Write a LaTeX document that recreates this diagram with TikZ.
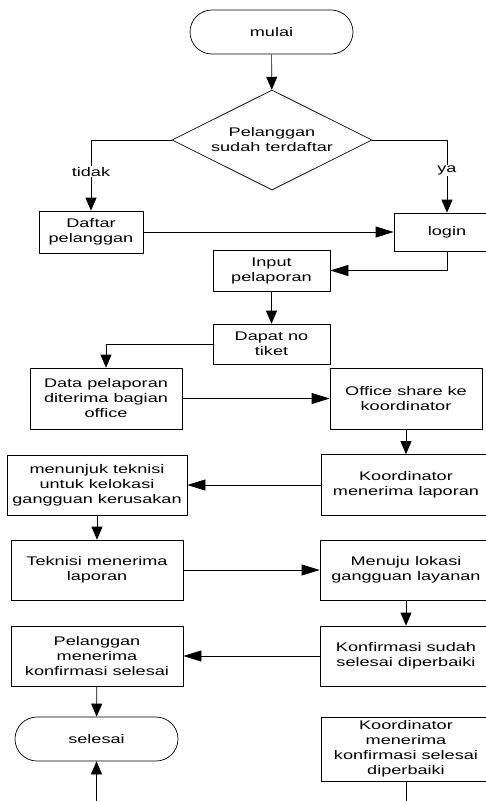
\documentclass[tikz,border=0pt]{standalone}
\usepackage{fontspec}
\setmainfont{Liberation Sans}[FakeStretch=1.45]
\usepackage{tikz}
\usetikzlibrary{shapes.geometric,shapes.misc,arrows.meta}

\tikzset{
  teks/.style={font=\fontsize{12.5}{15}\selectfont, align=center},
  proses/.style={teks, draw, rectangle, inner sep=0pt},
  terminal/.style={teks, draw, rounded rectangle, inner sep=0pt,
    minimum width=163pt, minimum height=44pt},
  keputusan/.style={teks, draw, diamond, aspect=2, inner sep=0pt,
    minimum width=200pt, minimum height=100pt},
  panah/.style={-{Triangle[length=13pt,width=11pt]}},
  panahh/.style={-{Triangle[length=18pt,width=11pt]}},
  ket/.style={teks, fill=white, inner sep=1pt}
}

\begin{document}
\begin{tikzpicture}[x=1pt,y=-1pt,line width=0.7pt]
  \useasboundingbox (0,0) rectangle (486,801);

\node[terminal] (mulai) at (271.5,32) {mulai};
\node[keputusan] (cek) at (272,140) {Pelanggan\\sudah terdaftar};
\node[proses, minimum width=104pt, minimum height=42pt] (daftar) at (91,232) {Daftar\\pelanggan};
\node[proses, minimum width=106pt, minimum height=38pt] (login) at (447,232) {login};
\node[proses, minimum width=117pt, minimum height=41pt] (input) at (271.5,270.5) {Input\\pelaporan};
\node[proses, minimum width=117pt, minimum height=40pt] (tiket) at (271.5,344) {Dapat no\\tiket};
\node[proses, minimum width=152pt, minimum height=61pt] (data) at (106,398.5) {Data pelaporan\\diterima bagian\\office};
\node[proses, minimum width=152pt, minimum height=61pt] (office) at (406,398.5) {Office share ke\\koordinator};
\node[proses, minimum width=170pt, minimum height=61pt] (koord) at (406,485) {Koordinator\\menerima laporan};
\node[proses, minimum width=180pt, minimum height=60pt] (tunjuk) at (97,485) {menunjuk teknisi\\untuk kelokasi\\gangguan kerusakan};
\node[proses, minimum width=172pt, minimum height=60pt] (teknisi) at (97,570) {Teknisi menerima\\laporan};
\node[proses, minimum width=172pt, minimum height=60pt] (menuju) at (406,570) {Menuju lokasi\\gangguan layanan};
\node[proses, minimum width=172pt, minimum height=60pt] (konfirm) at (406,656) {Konfirmasi sudah\\selesai diperbaiki};
\node[proses, minimum width=172pt, minimum height=60pt] (terima) at (97,656) {Pelanggan\\menerima\\konfirmasi selesai};
\node[terminal] (selesai) at (96.5,739) {selesai};
\node[proses, minimum width=170pt, minimum height=64pt] (kkonfirm) at (406,749) {Koordinator\\menerima\\konfirmasi selesai\\diperbaiki};
\coordinate (bawah) at (406,830);

\draw[panah] (mulai) -- (cek);
\draw[panah] (cek.west) -| node[ket,pos=0.725] {tidak} (daftar.north);
\draw[panah] (cek.east) -| node[ket,pos=0.71] {ya} (login.north);
\draw[panahh] (daftar) -- (login);
\draw[panahh] (login.south) |- (input.east);
\draw[panah] (input) -- (tiket);
\draw[panah] (tiket.west) -| (data.north);
\draw[panahh] (data) -- (office);
\draw[panah] (office) -- (koord);
\draw[panahh] (koord) -- (tunjuk);
\draw[panah] (tunjuk) -- (teknisi);
\draw[panahh] (teknisi) -- (menuju);
\draw[panah] (menuju) -- (konfirm);
\draw[panahh] (konfirm) -- (terima);
\draw[panah] (terima) -- (selesai);
\draw[panah] (kkonfirm.south) -- (bawah) -| (selesai.south);
\end{tikzpicture}
\end{document}
